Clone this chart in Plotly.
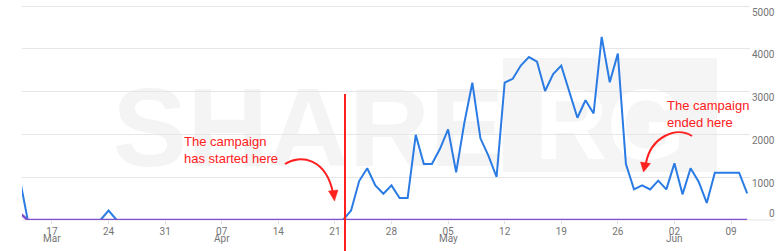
import pandas as pd
import plotly.graph_objects as go

# ---------------- data ----------------
dates = pd.date_range("2019-03-13", "2019-06-11", freq="D")

blue_values = (
    [980] + [0] * 10 + [220] + [0] * 7          # Mar 13 - Mar 31
    + [0] * 22                                   # Apr 1 - Apr 22
    + [220, 910, 1210, 810, 615, 810, 515, 515]  # Apr 23 - Apr 30
    + [1990, 1310, 1310, 1665, 2120, 1115, 2260, 3210, 1910, 1500, 1005,
       3210, 3300, 3610, 3810, 3700, 3015, 3410, 3610, 3000, 2390, 2800,
       2490, 4280, 3220, 3890, 1310, 715, 810, 715, 920]          # May
    + [715, 1325, 600, 1210, 895, 400, 1105, 1105, 1105, 1105, 625]  # Jun 1-11
)
purple_values = [165] + [0] * (len(dates) - 1)

tick_dates = ["2019-03-17", "2019-03-24", "2019-03-31", "2019-04-07", "2019-04-14",
              "2019-04-21", "2019-04-28", "2019-05-05", "2019-05-12", "2019-05-19",
              "2019-05-26", "2019-06-02", "2019-06-09"]
tick_labels = ["17", "24", "31", "07", "14", "21", "28", "05", "12", "19", "26",
               "02", "09"]
month_dates = ["2019-03-17", "2019-04-07", "2019-05-05", "2019-06-02"]
month_labels = ["Mar", "Apr", "May", "Jun"]
y_ticks = [0, 1000, 2000, 3000, 4000, 5000]
y_tick_labels = ["0", "1000", "2000", "3000", "4000", "5000"]

campaign_start = "2019-04-22 06:00"
start_text = "The campaign<br>has started here"
end_text = "The campaign<br>ended here"

# ---------------- layout helpers ----------------
W, H = 780, 251
L, R, T, B = 22, 30, 4, 31
PW, PH = W - L - R, H - T - B


def px(x):
    return (x - L) / PW


def py(y):
    return (H - B - y) / PH


RED = "#ff2020"
GREY = "#757575"

fig = go.Figure()
fig.add_trace(go.Scatter(x=dates, y=blue_values, mode="lines",
                         line=dict(color="#2a7be4", width=2), hoverinfo="skip"))
fig.add_trace(go.Scatter(x=dates, y=purple_values, mode="lines",
                         line=dict(color="#7e52cc", width=2.5), hoverinfo="skip"))

shapes = []
# watermark
shapes.append(dict(type="rect", xref="paper", yref="paper", layer="below",
                   x0=px(112), x1=px(505), y0=py(168), y1=py(64),
                   line=dict(width=0), fillcolor="rgba(0,0,0,0)",
                   label=dict(text="<b>SHARE</b>", textposition="middle center",
                              font=dict(size=112, color="#f4f4f4",
                                        family="Liberation Sans, Arial"))))
shapes.append(dict(type="rect", xref="paper", yref="paper", layer="below",
                   x0=px(503), x1=px(717), y0=py(172), y1=py(58),
                   line=dict(width=0), fillcolor="#f5f5f5",
                   label=dict(text="<b>RG</b>", textposition="middle center",
                              font=dict(size=100, color="#ffffff",
                                        family="Liberation Sans, Arial"))))
# extended baseline
shapes.append(dict(type="line", xref="paper", yref="paper", layer="below",
                   x0=0, x1=px(775), y0=0, y1=0,
                   line=dict(color="#e4e4e4", width=1)))
# campaign start vertical line
shapes.append(dict(type="line", xref="x", yref="paper",
                   x0=campaign_start, x1=campaign_start, y0=py(251), y1=py(94),
                   line=dict(color=RED, width=2)))


def curve(p0, c1, c2, p1):
    return ("M {} {} C {} {}, {} {}, {} {}".format(
        px(p0[0]), py(p0[1]), px(c1[0]), py(c1[1]),
        px(c2[0]), py(c2[1]), px(p1[0]), py(p1[1])))


def tri(a, b, c):
    return "M {} {} L {} {} L {} {} Z".format(
        px(a[0]), py(a[1]), px(b[0]), py(b[1]), px(c[0]), py(c[1]))


# arrow 1
shapes.append(dict(type="path", xref="paper", yref="paper",
                   path=curve((285, 164), (300, 154), (326, 158), (333, 193)),
                   line=dict(color=RED, width=2)))
shapes.append(dict(type="path", xref="paper", yref="paper",
                   path=tri((328.5, 191), (338, 190), (334.5, 201)),
                   line=dict(color=RED, width=0.5), fillcolor=RED))
# arrow 2
shapes.append(dict(type="path", xref="paper", yref="paper",
                   path=curve((692, 136), (676, 126), (651, 137), (646, 163)),
                   line=dict(color=RED, width=2)))
shapes.append(dict(type="path", xref="paper", yref="paper",
                   path=tri((640.5, 162), (650.5, 163.5), (643.5, 172)),
                   line=dict(color=RED, width=0.5), fillcolor=RED))

annotations = [
    dict(text=start_text, xref="paper", yref="paper", x=px(182), y=py(150),
         xanchor="left", yanchor="middle", align="left", showarrow=False,
         font=dict(size=13, color=RED, family="Liberation Sans, Arial")),
    dict(text=end_text, xref="paper", yref="paper", x=px(665), y=py(114),
         xanchor="left", yanchor="middle", align="left", showarrow=False,
         font=dict(size=13, color=RED, family="Liberation Sans, Arial")),
]
for d, m in zip(month_dates, month_labels):
    annotations.append(dict(text=m, xref="x", yref="paper", x=d, y=py(238.5),
                            xanchor="center", yanchor="middle", showarrow=False,
                            font=dict(size=10, color=GREY, family="Roboto, Arial")))
# right-hand value labels (Google-style offsets: below their grid line, zero above)
for v, t in zip(y_ticks, y_tick_labels):
    annotations.append(dict(text=t, xref="paper", yref="y", x=px(777), y=v,
                            xanchor="right", yanchor="middle", showarrow=False,
                            yshift=(7 if v == 0 else -6),
                            font=dict(size=10, color=GREY, family="Roboto, Arial")))

fig.update_layout(
    width=W, height=H,
    margin=dict(l=L, r=R, t=T, b=B, pad=0, autoexpand=False),
    paper_bgcolor="white", plot_bgcolor="white",
    showlegend=False,
    shapes=shapes,
    annotations=annotations,
    font=dict(family="Roboto, Arial", size=10, color=GREY),
    xaxis=dict(range=["2019-03-13 07:00", "2019-06-11 08:24"],
               tickvals=tick_dates, ticktext=tick_labels, automargin=False,
               showgrid=False, zeroline=False, showline=False,
               ticks="outside", ticklen=3, tickcolor="#dddddd",
               ticklabelstandoff=-1,
               tickfont=dict(size=10, color=GREY)),
    yaxis=dict(range=[0, 5050], tickvals=y_ticks, side="right", automargin=False,
               showgrid=True, gridcolor="#e6e6e6", gridwidth=1,
               zeroline=False, showline=False, ticks="", showticklabels=False),
)

fig.write_html("out.html")
